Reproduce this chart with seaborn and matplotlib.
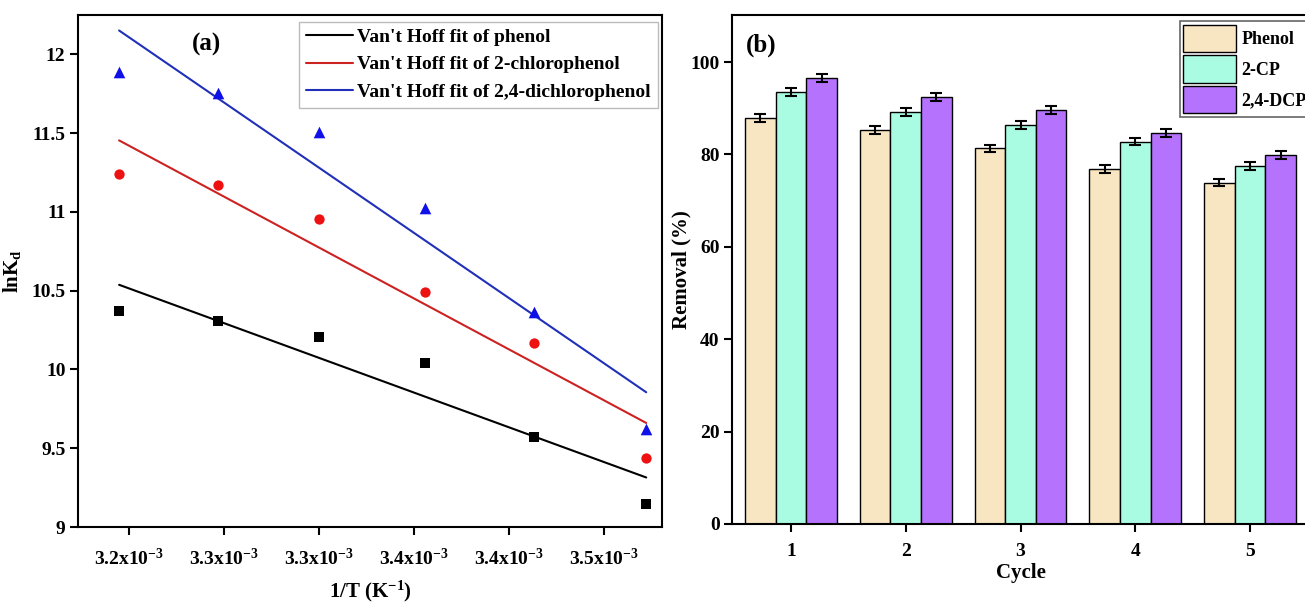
import numpy as np
import pandas as pd
import matplotlib
matplotlib.use("Agg")
import matplotlib.pyplot as plt
import seaborn as sns

# ---------------- data: panel (a) ----------------
inv_T = [3.195e-3, 3.247e-3, 3.300e-3, 3.356e-3, 3.413e-3, 3.472e-3]
lnKd_phenol = [10.37, 10.305, 10.205, 10.04, 9.57, 9.145]
lnKd_2cp = [11.24, 11.17, 10.955, 10.49, 10.165, 9.44]
lnKd_24dcp = [11.89, 11.755, 11.51, 11.025, 10.365, 9.625]
compounds = ["phenol", "2-chlorophenol", "2,4-dichlorophenol"]
fit_labels = ["Van't Hoff fit of phenol",
              "Van't Hoff fit of 2-chlorophenol",
              "Van't Hoff fit of 2,4-dichlorophenol"]
x_ticks_a = [3.20e-3, 3.25e-3, 3.30e-3, 3.35e-3, 3.40e-3, 3.45e-3]
x_tick_labels_a = ["3.2x10$^{\\mathbf{-3}}$", "3.3x10$^{\\mathbf{-3}}$", "3.3x10$^{\\mathbf{-3}}$",
                   "3.4x10$^{\\mathbf{-3}}$", "3.4x10$^{\\mathbf{-3}}$", "3.5x10$^{\\mathbf{-3}}$"]
y_ticks_a = [9, 9.5, 10, 10.5, 11, 11.5, 12]
y_tick_labels_a = ["9", "9.5", "10", "10.5", "11", "11.5", "12"]

# ---------------- data: panel (b) ----------------
cycles = ["1", "2", "3", "4", "5"]
pollutants = ["Phenol", "2-CP", "2,4-DCP"]
removal_phenol = [87.9, 85.3, 81.3, 76.9, 73.9]
removal_2cp = [93.6, 89.3, 86.4, 82.8, 77.5]
removal_24dcp = [96.6, 92.5, 89.7, 84.6, 79.9]
err_phenol = [0.76, 0.83, 0.76, 0.83, 0.76]
err_2cp = [0.87, 0.87, 0.90, 0.83, 0.83]
err_24dcp = [0.80, 0.87, 0.87, 0.90, 0.87]
y_ticks_b = [0, 20, 40, 60, 80, 100]

# ---------------- style ----------------
sns.set_theme(style="ticks")
plt.rcParams["font.family"] = ["Liberation Serif", "DejaVu Serif"]
plt.rcParams["font.weight"] = "bold"
plt.rcParams["mathtext.fontset"] = "custom"
plt.rcParams["mathtext.rm"] = "Liberation Serif:bold"
plt.rcParams["mathtext.bf"] = "Liberation Serif:bold"
plt.rcParams["mathtext.it"] = "Liberation Serif:bold:italic"
plt.rcParams["axes.linewidth"] = 1.5
for key in ["text.color", "axes.labelcolor", "xtick.color", "ytick.color", "axes.edgecolor"]:
    plt.rcParams[key] = "black"

W, H = 1305, 603
fig = plt.figure(figsize=(W / 100, H / 100), dpi=100)

def ax_rect(x0, y0, x1, y1):
    return [x0 / W, 1 - y1 / H, (x1 - x0) / W, (y1 - y0) / H]

ax1 = fig.add_axes(ax_rect(78, 15, 662, 527))
ax2 = fig.add_axes(ax_rect(732, 15, 1309, 524))

# ---------------- panel (a) ----------------
df_a = pd.DataFrame({
    "invT": inv_T * 3,
    "lnKd": lnKd_phenol + lnKd_2cp + lnKd_24dcp,
    "compound": [c for c in compounds for _ in inv_T],
})
marker_colors = {"phenol": "black", "2-chlorophenol": "#ee1111", "2,4-dichlorophenol": "#1010e8"}
line_colors = {"phenol": "black", "2-chlorophenol": "#cc2222", "2,4-dichlorophenol": "#2030b8"}
markers = {"phenol": "s", "2-chlorophenol": "o", "2,4-dichlorophenol": "^"}
sizes = {"phenol": 48, "2-chlorophenol": 55, "2,4-dichlorophenol": 70}

fit_lines = []
for comp, lab in zip(compounds, fit_labels):
    sub = df_a[df_a["compound"] == comp]
    sns.regplot(data=sub, x="invT", y="lnKd", ax=ax1, scatter=False, ci=None,
                truncate=True, color=line_colors[comp], line_kws={"lw": 1.5, "label": lab})
    fit_lines.append(ax1.get_lines()[-1])
    sns.scatterplot(data=sub, x="invT", y="lnKd", ax=ax1, color=marker_colors[comp],
                    marker=markers[comp], s=sizes[comp], linewidth=0, legend=False, zorder=3)

ax1.set_xlim(3.1734e-3, 3.4803e-3)
ax1.set_ylim(9, 12.25)
ax1.set_xticks(x_ticks_a)
ax1.set_xticklabels(x_tick_labels_a)
ax1.set_yticks(y_ticks_a)
ax1.set_yticklabels(y_tick_labels_a)
ax1.tick_params(axis="both", direction="out", length=6, width=1.5, labelsize=14, pad=3)
ax1.tick_params(axis="x", pad=9)
ax1.set_xlabel("1/T (K$^{\\mathbf{-1}}$)", fontsize=15, fontweight="bold", labelpad=7)
ax1.set_ylabel("lnK$_{\\mathbf{d}}$", fontsize=15, fontweight="bold")
ax1.yaxis.set_label_coords(-0.095, 0.5)
for s in ax1.spines.values():
    s.set_visible(True)
    s.set_linewidth(1.5)
    s.set_color("black")
ax1.text(0.22, 0.943, "(a)", transform=ax1.transAxes, fontsize=18, fontweight="bold",
         ha="center", va="center")
leg1 = ax1.legend(handles=fit_lines, labels=fit_labels, loc="upper right",
                  bbox_to_anchor=(0.993, 0.987), borderaxespad=0, fontsize=14,
                  handlelength=2.4, handletextpad=0.25, labelspacing=0.5, borderpad=0.35,
                  frameon=True, fancybox=False, edgecolor="#bbbbbb", framealpha=1)
leg1.get_frame().set_linewidth(1.0)
for t in leg1.get_texts():
    t.set_fontweight("bold")

# ---------------- panel (b) ----------------
df_b = pd.DataFrame({
    "Cycle": cycles * 3,
    "Removal": removal_phenol + removal_2cp + removal_24dcp,
    "Pollutant": [p for p in pollutants for _ in cycles],
})
errs = [err_phenol, err_2cp, err_24dcp]
bar_colors = {"Phenol": "#f8e5c2", "2-CP": "#a9fce2", "2,4-DCP": "#b472fd"}
sns.barplot(data=df_b, x="Cycle", y="Removal", hue="Pollutant", order=cycles,
            hue_order=pollutants, palette=bar_colors, saturation=1, errorbar=None,
            edgecolor="black", linewidth=1.0, width=0.8, legend=False, ax=ax2)

for cont, err in zip(ax2.containers[:3], errs):
    xs = [p.get_x() + p.get_width() / 2 for p in cont.patches]
    ys = [p.get_height() for p in cont.patches]
    ax2.errorbar(xs, ys, yerr=err, fmt="none", ecolor="black", elinewidth=1.5,
                 capsize=4.5, capthick=1.5, zorder=4)

ax2.set_xlim(-0.514, 4.514)
ax2.set_ylim(0, 110.2)
ax2.set_yticks(y_ticks_b)
ax2.tick_params(axis="both", direction="out", length=6, width=1.5, labelsize=14, pad=3)
ax2.tick_params(axis="x", pad=8)
ax2.set_xlabel("Cycle", fontsize=15, fontweight="bold", labelpad=2)
ax2.set_ylabel("Removal (%)", fontsize=15, fontweight="bold")
ax2.yaxis.set_label_coords(-0.070, 0.5)
for s in ax2.spines.values():
    s.set_visible(True)
    s.set_linewidth(1.5)
    s.set_color("black")
ax2.text(0.05, 0.941, "(b)", transform=ax2.transAxes, fontsize=18, fontweight="bold",
         ha="center", va="center")
handles_b = [c.patches[0] for c in ax2.containers[:3]]
leg2 = ax2.legend(handles=handles_b, labels=pollutants, loc="upper left",
                  bbox_to_anchor=(0.776, 0.988), borderaxespad=0, fontsize=13,
                  handlelength=2.9, handleheight=1.95, handletextpad=0.3,
                  labelspacing=0.18, borderpad=0.2, frameon=True, fancybox=False,
                  edgecolor="#666666", framealpha=1)
leg2.get_frame().set_linewidth(1.2)
for t in leg2.get_texts():
    t.set_fontweight("bold")

fig.savefig("out.png", dpi=100)
